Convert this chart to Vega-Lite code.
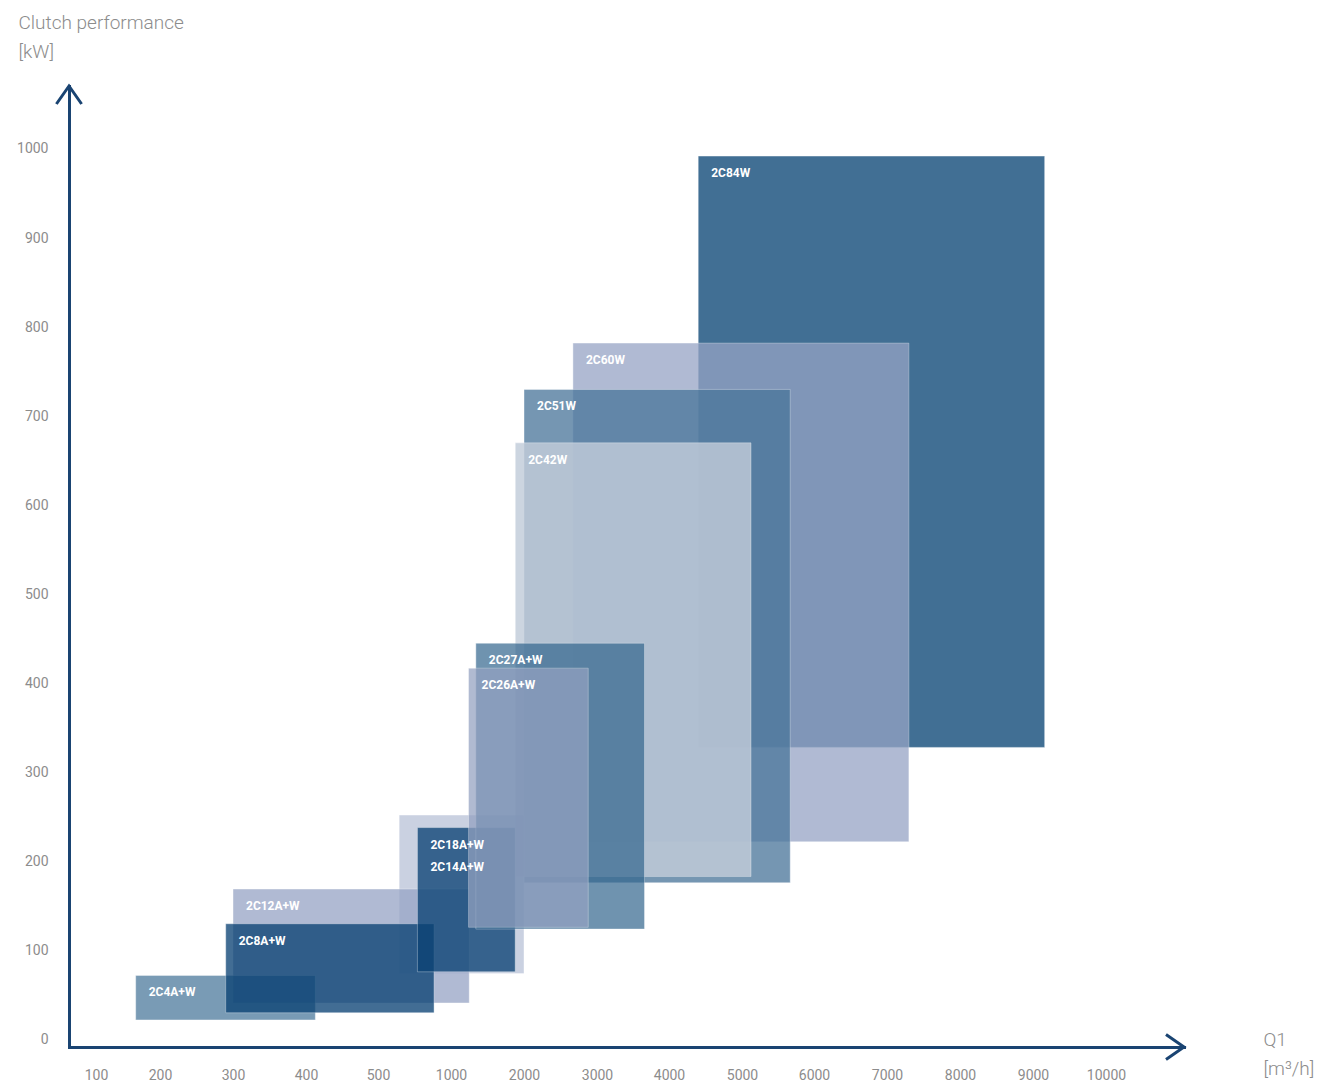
{
  "$schema": "https://vega.github.io/schema/vega-lite/v6.json",
  "width": 1115,
  "height": 961,
  "autosize": {"type": "none"},
  "padding": {"left": 69, "top": 86, "right": 142, "bottom": 36},
  "background": "#ffffff",
  "config": {"view": {"stroke": null}, "font": "Roboto"},
  "datasets": {
    "clutches": [
      {"name": "2C84W", "x0": 4400, "x1": 9160, "y0": 328, "y1": 992},
      {"name": "2C60W", "x0": 2670, "x1": 7300, "y0": 222, "y1": 782},
      {"name": "2C51W", "x0": 2000, "x1": 5670, "y0": 176, "y1": 730},
      {"name": "2C42W", "x0": 1880, "x1": 5125, "y0": 183, "y1": 670},
      {"name": "2C14A+W", "x0": 645, "x1": 2000, "y0": 74, "y1": 252, "lx": 770, "ly": 213},
      {"name": "2C12A+W", "x0": 300, "x1": 1250, "y0": 41, "y1": 169},
      {"name": "2C4A+W", "x0": 162, "x1": 413, "y0": 22, "y1": 72},
      {"name": "2C8A+W", "x0": 290, "x1": 884, "y0": 30, "y1": 130},
      {"name": "2C18A+W", "x0": 770, "x1": 1880, "y0": 76, "y1": 238},
      {"name": "2C27A+W", "x0": 1340, "x1": 3660, "y0": 124, "y1": 445},
      {"name": "2C26A+W", "x0": 1240, "x1": 2880, "y0": 126, "y1": 417}
    ]
  },
  "layer": [
    {
      "data": {"name": "clutches"},
      "mark": {"type": "rect", "stroke": "#ffffff", "strokeWidth": 1, "strokeOpacity": 0.4},
      "encoding": {
        "x": {
          "field": "x0",
          "type": "quantitative",
          "scale": {
            "type": "linear",
            "domain": [57.8, 100, 200, 300, 400, 500, 1000, 2000, 3000, 4000, 5000, 6000, 7000, 8000, 9000, 10000, 11070],
            "range": [0, 27, 91, 164, 237, 309, 382, 455, 528, 600, 673, 745, 818, 891, 964, 1037, 1115],
            "nice": false,
            "zero": false
          },
          "axis": {
            "values": [100, 200, 300, 400, 500, 1000, 2000, 3000, 4000, 5000, 6000, 7000, 8000, 9000, 10000],
            "format": "d",
            "ticks": false,
            "tickSize": 0,
            "grid": false,
            "domainColor": "#1a4472",
            "domainWidth": 3,
            "domainCap": "square",
            "labelColor": "#8c8c8c",
            "labelFont": "Roboto",
            "labelFontSize": 14,
            "labelPadding": 21,
            "labelFlush": false,
            "labelOverlap": false,
            "title": ["Q1", "[m³/h]"],
            "titleX": 1194,
            "titleY": -17,
            "titleAlign": "left",
            "titleBaseline": "top",
            "titleAngle": 0,
            "titleFont": "Roboto",
            "titleFontSize": 19,
            "titleFontWeight": 300,
            "titleColor": "#8c8c8c",
            "titleLineHeight": 29
          }
        },
        "x2": {"field": "x1"},
        "y": {
          "field": "y0",
          "type": "quantitative",
          "scale": {"domain": [-8.4, 1070.7], "nice": false, "zero": false},
          "axis": {
            "values": [0, 100, 200, 300, 400, 500, 600, 700, 800, 900, 1000],
            "format": "d",
            "ticks": false,
            "tickSize": 0,
            "grid": false,
            "domainColor": "#1a4472",
            "domainWidth": 3,
            "domainCap": "square",
            "labelColor": "#8c8c8c",
            "labelFont": "Roboto",
            "labelFontSize": 14,
            "labelPadding": 21,
            "labelFlush": false,
            "labelOverlap": false,
            "title": ["Clutch performance", "[kW]"],
            "titleX": -51,
            "titleY": -73,
            "titleAlign": "left",
            "titleBaseline": "top",
            "titleAngle": 0,
            "titleFont": "Roboto",
            "titleFontSize": 19,
            "titleFontWeight": 300,
            "titleColor": "#8c8c8c",
            "titleLineHeight": 29
          }
        },
        "y2": {"field": "y1"},
        "color": {
          "field": "name",
          "type": "nominal",
          "scale": {
            "domain": ["2C84W", "2C60W", "2C51W", "2C42W", "2C14A+W", "2C12A+W", "2C4A+W", "2C8A+W", "2C18A+W", "2C27A+W", "2C26A+W"],
            "range": ["#416f94", "#96a4c5", "#4a769b", "#c2ccda", "#96a4c5", "#96a4c5", "#33668e", "#0a4274", "#0a4274", "#33668e", "#93a1c1"]
          },
          "legend": null
        },
        "opacity": {
          "field": "name",
          "type": "nominal",
          "scale": {
            "type": "ordinal",
            "domain": ["2C84W", "2C60W", "2C51W", "2C42W", "2C14A+W", "2C12A+W", "2C4A+W", "2C8A+W", "2C18A+W", "2C27A+W", "2C26A+W"],
            "range": [1, 0.75, 0.76, 0.82, 0.5, 0.75, 0.65, 0.77, 0.77, 0.7, 0.73]
          },
          "legend": null
        }
      }
    },
    {
      "data": {"name": "clutches"},
      "transform": [{"filter": "datum.name !== '2C14A+W'"}],
      "mark": {"type": "text", "align": "left", "baseline": "middle", "dx": 13, "dy": 17, "color": "#ffffff", "font": "Roboto", "fontSize": 12, "fontWeight": "bold"},
      "encoding": {
        "x": {"field": "x0", "type": "quantitative"},
        "y": {"field": "y1", "type": "quantitative"},
        "text": {"field": "name"}
      }
    },
    {
      "data": {"name": "clutches"},
      "transform": [{"filter": "datum.name === '2C14A+W'"}],
      "mark": {"type": "text", "align": "left", "baseline": "middle", "dx": 13, "dy": 17, "color": "#ffffff", "font": "Roboto", "fontSize": 12, "fontWeight": "bold"},
      "encoding": {
        "x": {"field": "lx", "type": "quantitative"},
        "y": {"field": "ly", "type": "quantitative"},
        "text": {"field": "name"}
      }
    },
    {
      "data": {"values": [{}]},
      "mark": {"type": "point", "shape": "M-0.7,1L0,0L0.7,1", "filled": false, "stroke": "#1a4472", "strokeWidth": 3, "size": 1296, "angle": 90, "opacity": 1},
      "encoding": {
        "x": {"datum": 11070, "type": "quantitative"},
        "y": {"datum": -8.4, "type": "quantitative"}
      }
    },
    {
      "data": {"values": [{}]},
      "mark": {"type": "point", "shape": "M-0.7,1L0,0L0.7,1", "filled": false, "stroke": "#1a4472", "strokeWidth": 3, "size": 1296, "angle": 0, "opacity": 1},
      "encoding": {
        "x": {"datum": 57.8, "type": "quantitative"},
        "y": {"datum": 1070.7, "type": "quantitative"}
      }
    }
  ]
}
